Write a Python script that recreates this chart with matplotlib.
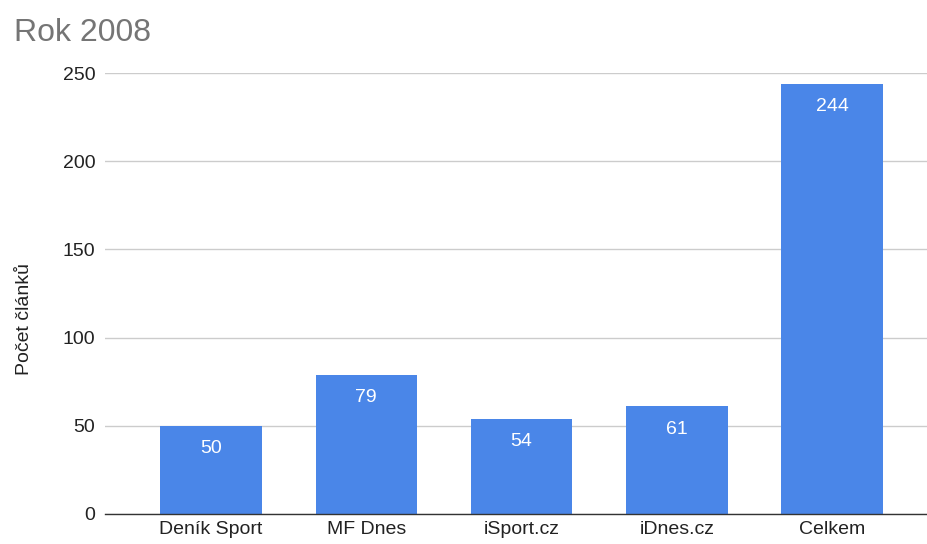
import matplotlib
matplotlib.use("Agg")
import matplotlib.pyplot as plt
import numpy as np

# data
categories = ['Deník Sport', 'MF Dnes', 'iSport.cz', 'iDnes.cz', 'Celkem']
counts = [50, 79, 54, 61, 244]
y_ticks = [0, 50, 100, 150, 200, 250]

plt.rcParams['font.family'] = ['Liberation Sans', 'DejaVu Sans']

fig = plt.figure(figsize=(9.28, 5.44), dpi=100)
ax = fig.add_axes([105 / 928, 1 - 514 / 544, 823 / 928, (514 - 73) / 544])

x = np.arange(len(categories))
ax.bar(x, counts, width=0.654, color='#4a86e8', zorder=3)

for xi, v in zip(x, counts):
    ax.annotate(str(v), (xi, v), xytext=(0, -23), textcoords='offset pixels',
                ha='center', va='center', color='white', fontsize=14, zorder=4)

ax.set_xlim(-0.683, 4.618)
ax.set_ylim(0, 250)
ax.set_yticks(y_ticks)
ax.set_xticks(x)
ax.set_xticklabels(categories)
ax.tick_params(axis='both', length=0, labelsize=14, colors='#222222')
ax.tick_params(axis='y', pad=7)
ax.tick_params(axis='x', pad=5)

ax.grid(axis='y', color='#cccccc', linewidth=1, zorder=0)
for side in ['top', 'right', 'left']:
    ax.spines[side].set_visible(False)
ax.spines['bottom'].set_color('#333333')
ax.spines['bottom'].set_linewidth(1)
ax.spines['bottom'].set_zorder(5)

ax.set_ylabel('Počet článků', fontsize=14, color='#222222', labelpad=0)
ax.yaxis.set_label_coords((33 - 105) / 823, (514 - 319) / 441)

fig.text(14 / 928, 1 - 33 / 544, 'Rok 2008', fontsize=23, color='#757575',
         ha='left', va='center')

fig.savefig('out.png', dpi=100)
